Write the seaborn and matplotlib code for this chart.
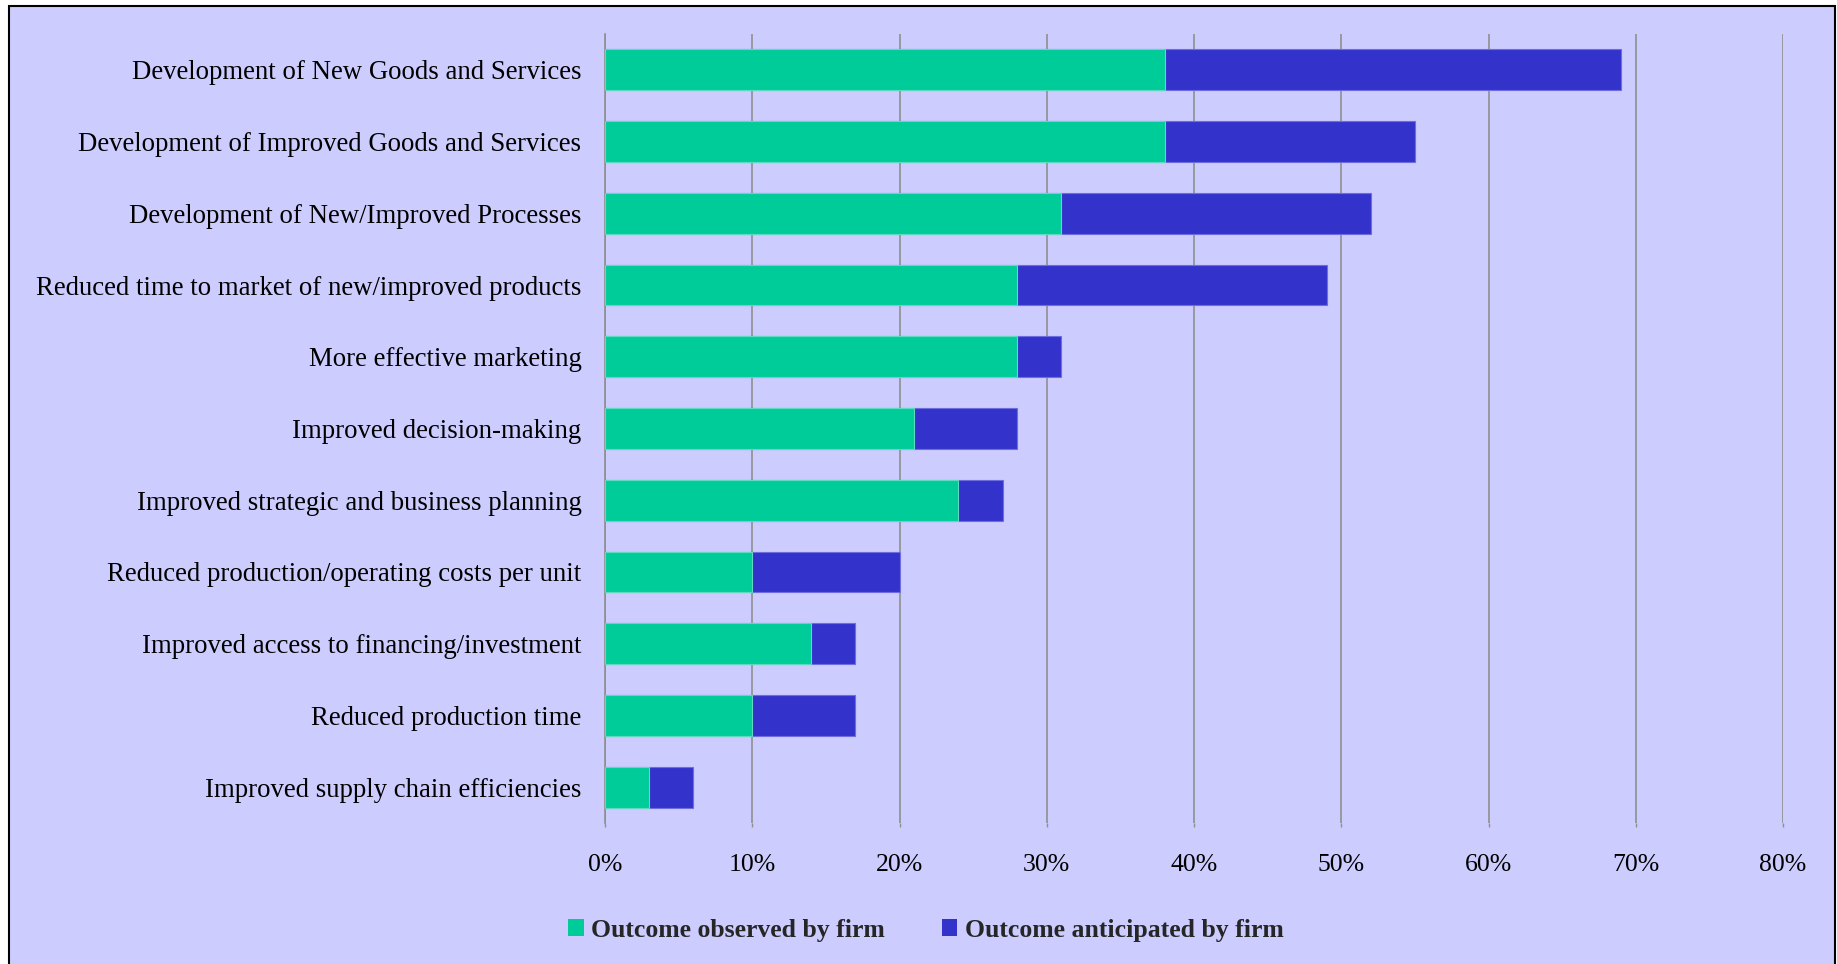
import matplotlib
matplotlib.use("Agg")
import matplotlib.pyplot as plt
import seaborn as sns
import pandas as pd
from matplotlib.patches import Rectangle
from matplotlib.ticker import PercentFormatter

categories = [
    "Development of New Goods and Services",
    "Development of Improved Goods and Services",
    "Development of New/Improved Processes",
    "Reduced time to market of new/improved products",
    "More effective marketing",
    "Improved decision-making",
    "Improved strategic and business planning",
    "Reduced production/operating costs per unit",
    "Improved access to financing/investment",
    "Reduced production time",
    "Improved supply chain efficiencies",
]
observed = [38, 38, 31, 28, 28, 21, 24, 10, 14, 10, 3]
anticipated = [31, 17, 21, 21, 3, 7, 3, 10, 3, 7, 3]
series_names = ["Outcome observed by firm", "Outcome anticipated by firm"]
x_ticks = [0, 10, 20, 30, 40, 50, 60, 70, 80]

GREEN = "#00CC99"
BLUE = "#3333CC"
BG = "#CCCCFF"
GRID = "#8f8f8f"

df = pd.DataFrame({"category": categories, "observed": observed,
                   "anticipated": anticipated})
df["total"] = df["observed"] + df["anticipated"]

sns.set_theme(style="white")
plt.rcParams["font.family"] = ["Liberation Serif", "DejaVu Serif"]

W, H = 1837, 964
fig = plt.figure(figsize=(W / 100, H / 100), dpi=100, facecolor="white")
fig.patches.append(Rectangle((9 / W, -0.01), (1835 - 9) / W, 1 - 6 / H + 0.01,
                             transform=fig.transFigure, facecolor=BG,
                             edgecolor="black", linewidth=1.5, zorder=-10))

ax = fig.add_axes([605 / W, 1 - 823 / H, (1783 - 605) / W, (823 - 34) / H])
ax.set_facecolor("none")
ax.set_zorder(5)

sns.barplot(data=df, x="total", y="category", color=BLUE, orient="h",
            width=0.57, ax=ax, saturation=1, edgecolor="#6d6de0", linewidth=0.8,
            zorder=3)
sns.barplot(data=df, x="observed", y="category", color=GREEN, orient="h",
            width=0.57, ax=ax, saturation=1, edgecolor="#5fd9c0", linewidth=0.8,
            zorder=4)

ax.set_xlim(0, 80)
ax.set_ylim(len(categories) - 0.5, -0.5)
ax.set_xticks(x_ticks)
ax.xaxis.set_major_formatter(PercentFormatter(decimals=0))
ax.set_xlabel("")
ax.set_ylabel("")
ax.set_axisbelow(True)
ax.grid(axis="x", color=GRID, linewidth=1.2)
ax.grid(axis="y", visible=False)
for s in ["top", "right", "bottom"]:
    ax.spines[s].set_visible(False)
ax.spines["left"].set_color(GRID)
ax.spines["left"].set_linewidth(1.2)
ax.tick_params(axis="x", which="both", bottom=True, length=3, width=1,
               color=GRID, pad=19.5, labelsize=18.5, labelcolor="black")
ax.tick_params(axis="y", left=False, pad=11, labelsize=19.3, labelcolor="black")

handles = [Rectangle((0, 0), 1, 1, facecolor=GREEN, edgecolor="none"),
           Rectangle((0, 0), 1, 1, facecolor=BLUE, edgecolor="none")]
fig.legend(handles, series_names, loc="center",
           bbox_to_anchor=(926 / W, 1 - 930 / H), ncol=2, frameon=False,
           handlelength=0.6, handleheight=0.6, handletextpad=0.3,
           columnspacing=2.2, prop={"family": "Liberation Serif",
                                    "weight": "bold", "size": 18.5})

fig.savefig("out.png", dpi=100, facecolor="white")
